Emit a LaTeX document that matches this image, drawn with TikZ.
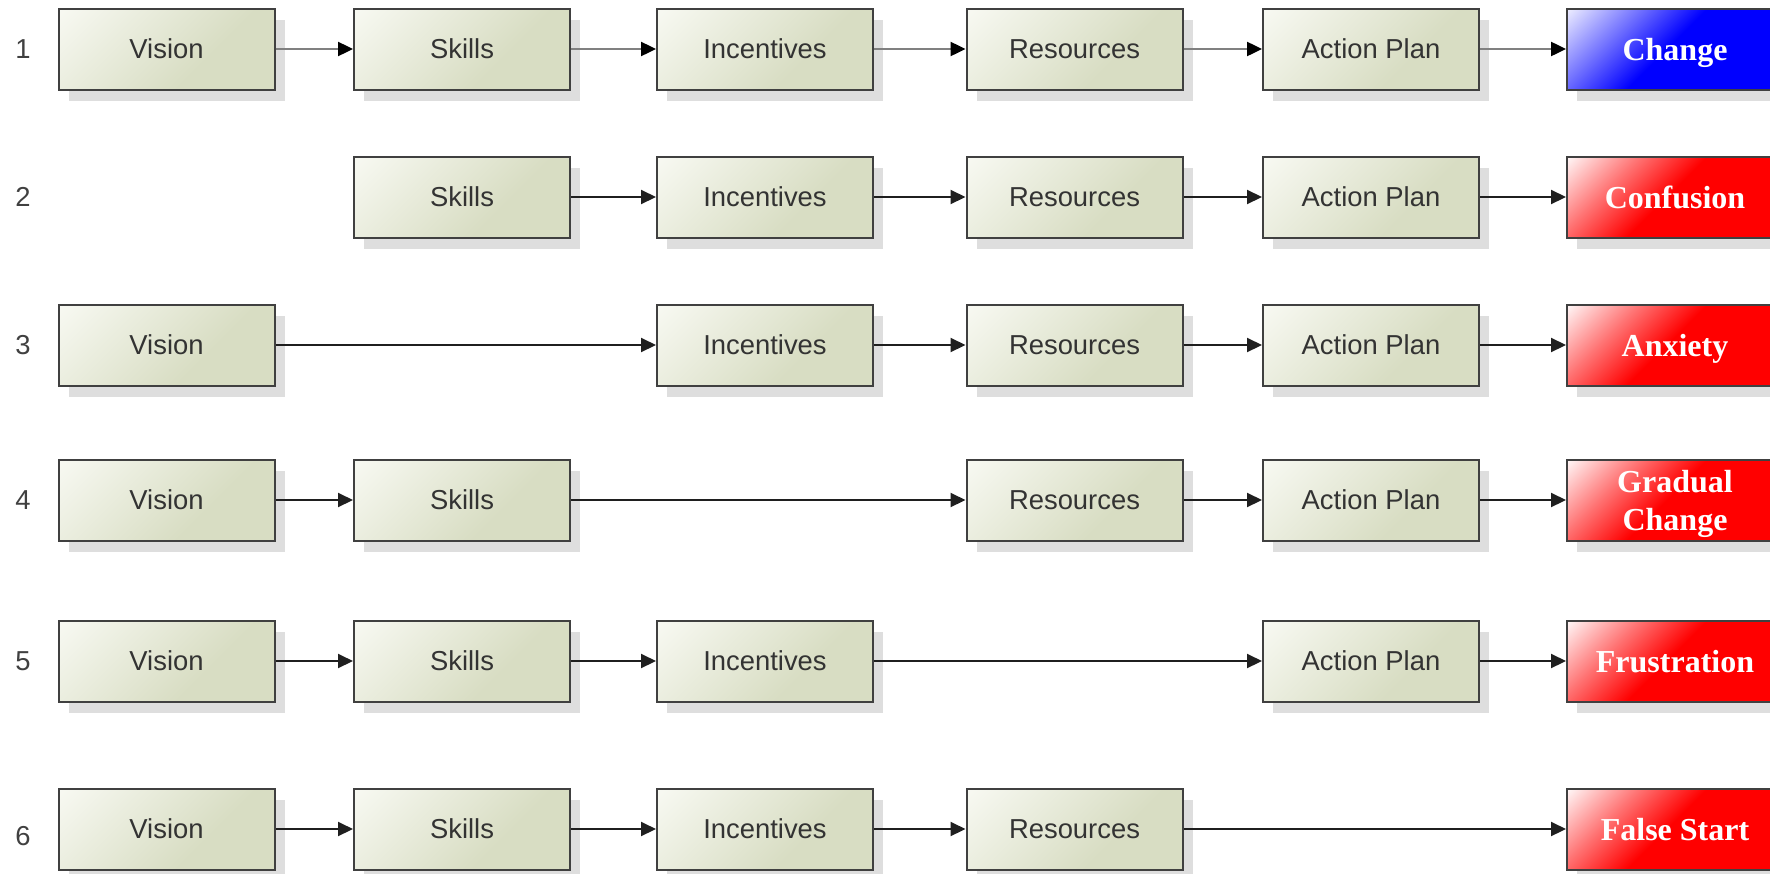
\documentclass[tikz,border=0pt]{standalone}
\usepackage{fontspec}
\setmainfont{Liberation Sans}
\newfontfamily\outfont{Liberation Serif}
\usetikzlibrary{arrows.meta,shadows}

\definecolor{bgA}{HTML}{F9FAF4}
\definecolor{bgB}{HTML}{D8DDC3}
\definecolor{boxtext}{HTML}{333333}

% diagonal fills: light corner at the upper left
\pgfdeclarehorizontalshading{stageshade}{100bp}{color(0bp)=(bgA); color(13bp)=(bgA); color(62bp)=(bgB); color(100bp)=(bgB)}
\pgfdeclarehorizontalshading{redshade}{100bp}{color(0bp)=(white); color(15bp)=(white!96!red); color(32bp)=(red!55!white); color(48bp)=(red); color(100bp)=(red)}
\pgfdeclarehorizontalshading{blueshade}{100bp}{color(0bp)=(white); color(15bp)=(white!92!blue); color(32bp)=(blue!55!white); color(48bp)=(blue); color(100bp)=(blue)}

\tikzset{
  stage/.style={draw=black!75, line width=1pt, shade, shading=stageshade, shading angle=-45,
    minimum width=108pt, minimum height=40.5pt, inner sep=0pt, text=boxtext,
    font=\fontsize{13.7}{16}\selectfont,
    drop shadow={shadow xshift=5pt, shadow yshift=-5.5pt, fill=black!13, opacity=1}},
  outcome/.style={stage, shading=redshade, text=white, align=center, text depth=0pt,
    font=\outfont\bfseries\fontsize{16}{19}\selectfont},
  goodoutcome/.style={outcome, shading=blueshade},
  rownum/.style={text=black!75, font=\fontsize{13.7}{16}\selectfont},
  link/.style={-{Triangle[length=7.5pt,width=7pt]}, line width=1pt, draw=black!88},
  toplink/.style={-{Triangle[length=7.5pt,width=7pt,color=black]}, line width=1.2pt, draw=black!50}
}

\begin{document}
\begin{tikzpicture}[x=0.5pt,y=-0.5pt]
\useasboundingbox (0,0) rectangle (1770,873);

% row numbers
\node[rownum] (n1) at (23,49) {1};
\node[rownum] (n2) at (23,197) {2};
\node[rownum] (n3) at (23,345) {3};
\node[rownum] (n4) at (23,500) {4};
\node[rownum] (n5) at (23,661) {5};
\node[rownum] (n6) at (23,836) {6};

% row 1
\node[stage] (v1) at (166.5,49) {Vision};
\node[stage] (s1) at (462,49) {Skills};
\node[stage] (i1) at (765,49) {Incentives};
\node[stage] (r1) at (1074.5,49) {Resources};
\node[stage] (a1) at (1371,49) {Action Plan};
\node[goodoutcome] (o1) at (1675,49) {Change};
\draw[toplink] (v1) -- (s1);
\draw[toplink] (s1) -- (i1);
\draw[toplink] (i1) -- (r1);
\draw[toplink] (r1) -- (a1);
\draw[toplink] (a1) -- (o1);

% row 2
\node[stage] (s2) at (462,197) {Skills};
\node[stage] (i2) at (765,197) {Incentives};
\node[stage] (r2) at (1074.5,197) {Resources};
\node[stage] (a2) at (1371,197) {Action Plan};
\node[outcome] (o2) at (1675,197) {Confusion};
\draw[link] (s2) -- (i2);
\draw[link] (i2) -- (r2);
\draw[link] (r2) -- (a2);
\draw[link] (a2) -- (o2);

% row 3
\node[stage] (v3) at (166.5,345) {Vision};
\node[stage] (i3) at (765,345) {Incentives};
\node[stage] (r3) at (1074.5,345) {Resources};
\node[stage] (a3) at (1371,345) {Action Plan};
\node[outcome] (o3) at (1675,345) {Anxiety};
\draw[link] (v3) -- (i3);
\draw[link] (i3) -- (r3);
\draw[link] (r3) -- (a3);
\draw[link] (a3) -- (o3);

% row 4
\node[stage] (v4) at (166.5,500) {Vision};
\node[stage] (s4) at (462,500) {Skills};
\node[stage] (r4) at (1074.5,500) {Resources};
\node[stage] (a4) at (1371,500) {Action Plan};
\node[outcome] (o4) at (1675,500) {Gradual\\Change};
\draw[link] (v4) -- (s4);
\draw[link] (s4) -- (r4);
\draw[link] (r4) -- (a4);
\draw[link] (a4) -- (o4);

% row 5
\node[stage] (v5) at (166.5,661) {Vision};
\node[stage] (s5) at (462,661) {Skills};
\node[stage] (i5) at (765,661) {Incentives};
\node[stage] (a5) at (1371,661) {Action Plan};
\node[outcome] (o5) at (1675,661) {Frustration};
\draw[link] (v5) -- (s5);
\draw[link] (s5) -- (i5);
\draw[link] (i5) -- (a5);
\draw[link] (a5) -- (o5);

% row 6
\node[stage] (v6) at (166.5,829) {Vision};
\node[stage] (s6) at (462,829) {Skills};
\node[stage] (i6) at (765,829) {Incentives};
\node[stage] (r6) at (1074.5,829) {Resources};
\node[outcome] (o6) at (1675,829) {False Start};
\draw[link] (v6) -- (s6);
\draw[link] (s6) -- (i6);
\draw[link] (i6) -- (r6);
\draw[link] (r6) -- (o6);
\end{tikzpicture}
\end{document}
